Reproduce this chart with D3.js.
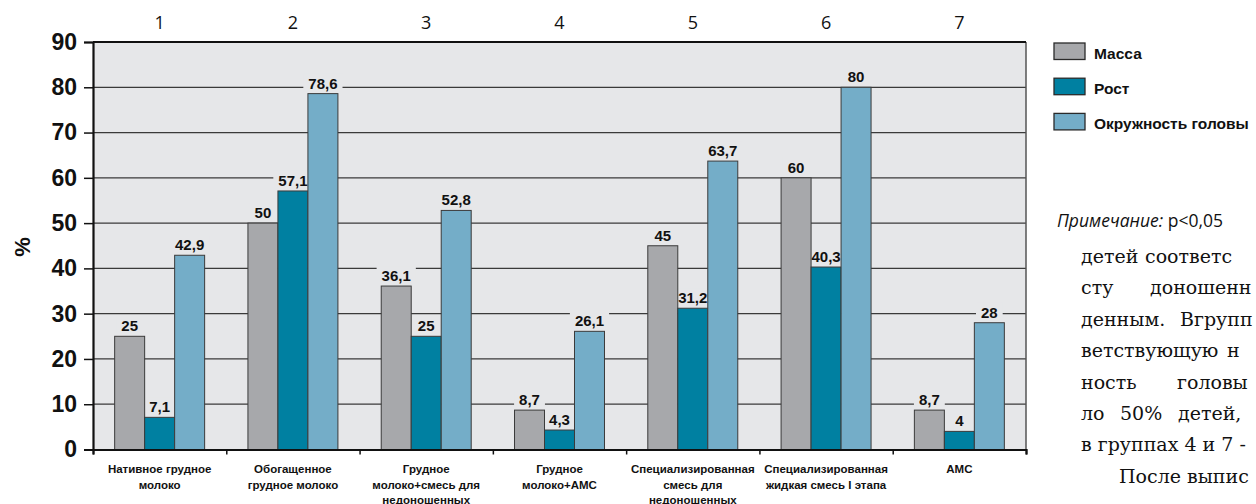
<!DOCTYPE html>
<html>
<head>
<meta charset="utf-8">
<script src="https://cdn.jsdelivr.net/npm/d3@7"></script>
<style>
  body { margin: 0; background: #fff; }
  svg { display: block; }
</style>
</head>
<body>
<svg width="1256" height="504"></svg>
<script>
"use strict";

// группы (номера сверху и подписи снизу)
const groupNumbers = ["1", "2", "3", "4", "5", "6", "7"];
const groupLabels = [
  ["Нативное грудное", "молоко"],
  ["Обогащенное", "грудное молоко"],
  ["Грудное", "молоко+смесь для", "недоношенных"],
  ["Грудное", "молоко+АМС"],
  ["Специализированная", "смесь для", "недоношенных"],
  ["Специализированная", "жидкая смесь I этапа"],
  ["АМС"]
];
const seriesNames = ["Масса", "Рост", "Окружность головы"];
const massa = [25, 50, 36.1, 8.7, 45, 60, 8.7];
const rost = [7.1, 57.1, 25, 4.3, 31.2, 40.3, 4];
const golova = [42.9, 78.6, 52.8, 26.1, 63.7, 80, 28];
const yTicks = [0, 10, 20, 30, 40, 50, 60, 70, 80, 90];
const colors = ["#a7a8ab", "#0080a1", "#74adc8"];

// текст справа (кусок статьи)
const noteItalic = "Примечание:";
const noteNormal = " p<0,05";
const bodyLines = [
  ["детей", "соответс"],
  ["сту", "доношенн"],
  ["денным.", "Вгрупп"],
  ["ветствующую", "н"],
  ["ность", "головы"],
  ["ло", "50%", "детей,"],
  ["в группах 4 и 7 -"],
  ["После выпис"]
];
const bodyWordX = [
  [1081, 1145],
  [1081, 1150],
  [1081, 1180],
  [1081, 1227],
  [1081, 1177],
  [1081, 1120, 1178],
  [1081],
  [1119]
];

const svg = d3.select("svg");
const pLeft = 93, pRight = 1026, pTop = 42, pBottom = 449.5;

const yScale = d3.scaleLinear().domain([0, 90]).range([pBottom, pTop]);
const xScale = d3.scaleBand().domain(groupNumbers).range([pLeft, pRight]).padding(0);
const inner = d3.scaleBand().domain(seriesNames).range([0, xScale.bandwidth()])
  .paddingInner(0).paddingOuter(0.722);

// фон области графика
svg.append("rect")
  .attr("x", pLeft).attr("y", pTop)
  .attr("width", pRight - pLeft).attr("height", pBottom - pTop)
  .attr("fill", "#e6e7e9");

// сетка
svg.append("g")
  .selectAll("line")
  .data(yTicks.filter((d) => d > 0 && d < 90))
  .enter()
  .append("line")
  .attr("x1", pLeft).attr("x2", pRight)
  .attr("y1", (d) => yScale(d)).attr("y2", (d) => yScale(d))
  .attr("stroke", "#3a3a3a")
  .attr("stroke-width", 1.3);

// правая граница и верхняя линия
svg.append("line")
  .attr("x1", pRight).attr("x2", pRight).attr("y1", pTop).attr("y2", pBottom)
  .attr("stroke", "#555").attr("stroke-width", 1.5);
svg.append("line")
  .attr("x1", pLeft).attr("x2", pRight).attr("y1", pTop).attr("y2", pTop)
  .attr("stroke", "#111").attr("stroke-width", 2.2);

const data = groupNumbers.map((g, i) => ({
  group: g,
  values: [massa[i], rost[i], golova[i]]
}));
const flat = [];
data.forEach((d) => d.values.forEach((v, j) => flat.push({ group: d.group, name: seriesNames[j], v: v, j: j })));

const fmt = (v) => String(v).replace(".", ",");
const barX = (d) => xScale(d.group) + inner(d.name);
const labelFont = "Liberation Sans, Arial, sans-serif";

// подложки под подписями (только закрывают сетку)
const boxG = svg.append("g");
// столбцы
const barG = svg.append("g");
// тексты подписей
const lblG = svg.append("g");

barG.selectAll("rect")
  .data(flat)
  .enter()
  .append("rect")
  .attr("x", barX)
  .attr("y", (d) => yScale(d.v))
  .attr("width", inner.bandwidth())
  .attr("height", (d) => pBottom - yScale(d.v))
  .attr("fill", (d) => colors[d.j])
  .attr("stroke", "#3b3b3b")
  .attr("stroke-width", 1);

lblG.selectAll("text")
  .data(flat)
  .enter()
  .append("text")
  .attr("x", (d) => barX(d) + inner.bandwidth() / 2)
  .attr("y", (d) => yScale(d.v) - 5)
  .attr("text-anchor", "middle")
  .attr("font-family", labelFont)
  .attr("font-weight", "bold")
  .attr("font-size", 15)
  .attr("fill", "#111")
  .text((d) => fmt(d.v))
  .each(function (d) {
    const w = this.getComputedTextLength();
    boxG.append("rect")
      .attr("x", barX(d) + inner.bandwidth() / 2 - w / 2 - 5)
      .attr("y", yScale(d.v) - 20)
      .attr("width", w + 10)
      .attr("height", 17)
      .attr("fill", "#e6e7e9");
  });

// ось Y
const yAxis = d3.axisLeft(yScale).tickValues(yTicks).tickSize(9).tickPadding(7);
const yG = svg.append("g")
  .attr("transform", `translate(${pLeft},0)`)
  .call(yAxis);
yG.select(".domain").attr("stroke", "#111").attr("stroke-width", 2.2);
yG.selectAll(".tick line").attr("stroke", "#111").attr("stroke-width", 1.5);
yG.selectAll(".tick text")
  .attr("font-family", labelFont)
  .attr("font-weight", "bold")
  .attr("font-size", 23)
  .attr("fill", "#111");

// ось X (засечки на границах групп)
const edge = d3.scaleLinear().domain([0, 7]).range([pLeft, pRight]);
const xAxis = d3.axisBottom(edge).tickValues(d3.range(0, 8)).tickSize(5).tickFormat("");
const xG = svg.append("g")
  .attr("transform", `translate(0,${pBottom})`)
  .call(xAxis);
xG.select(".domain").attr("stroke", "#111").attr("stroke-width", 2.2);
xG.selectAll(".tick line").attr("stroke", "#111").attr("stroke-width", 1.5);

// номера групп сверху
const topAxis = d3.axisTop(xScale).tickSize(0).tickPadding(13);
const tG = svg.append("g")
  .attr("transform", `translate(0,${pTop})`)
  .call(topAxis);
tG.select(".domain").remove();
tG.selectAll(".tick text")
  .attr("font-family", "Open Sans, sans-serif")
  .attr("font-size", 18)
  .attr("fill", "#111");

// подписи групп снизу
svg.append("g")
  .selectAll("text")
  .data(groupNumbers)
  .enter()
  .append("text")
  .attr("x", (d) => xScale(d) + xScale.bandwidth() / 2)
  .attr("y", 473)
  .attr("text-anchor", "middle")
  .attr("font-family", labelFont)
  .attr("font-weight", "bold")
  .attr("font-size", 11.5)
  .attr("fill", "#111")
  .each(function (d, i) {
    const t = d3.select(this);
    groupLabels[i].forEach((line, k) => {
      t.append("tspan")
        .attr("x", xScale(d) + xScale.bandwidth() / 2)
        .attr("dy", k === 0 ? 0 : 15.5)
        .text(line);
    });
  });

// подпись оси Y
svg.append("text")
  .attr("transform", "translate(30,247) rotate(-90)")
  .attr("text-anchor", "middle")
  .attr("font-family", labelFont)
  .attr("font-weight", "bold")
  .attr("font-size", 22)
  .attr("fill", "#111")
  .text("%");

// легенда
const legend = svg.append("g")
  .selectAll("g")
  .data(seriesNames)
  .enter()
  .append("g")
  .attr("transform", (d, i) => `translate(1054,${43 + i * 35.2})`);
legend.append("rect")
  .attr("width", 31).attr("height", 16.5)
  .attr("fill", (d, i) => colors[i])
  .attr("stroke", "#2a2a2a").attr("stroke-width", 1.3);
legend.append("text")
  .attr("x", 40).attr("y", 16)
  .attr("font-family", labelFont)
  .attr("font-weight", "bold")
  .attr("font-size", 15.5)
  .attr("fill", "#111")
  .text((d) => d);

// примечание
const note = svg.append("text")
  .attr("x", 1057).attr("y", 227)
  .attr("font-family", "Open Sans, sans-serif")
  .attr("font-size", 17.5)
  .attr("fill", "#111");
note.append("tspan").attr("font-style", "italic").text(noteItalic);
note.append("tspan").text(noteNormal);

// текст статьи справа
bodyLines.forEach((words, i) => {
  words.forEach((w, k) => {
    svg.append("text")
      .attr("x", bodyWordX[i][k])
      .attr("y", 263 + i * 31.4)
      .attr("font-family", "DejaVu Serif, serif")
      .attr("font-size", 19)
      .attr("fill", "#111")
      .text(w);
  });
});
</script>
</body>
</html>
